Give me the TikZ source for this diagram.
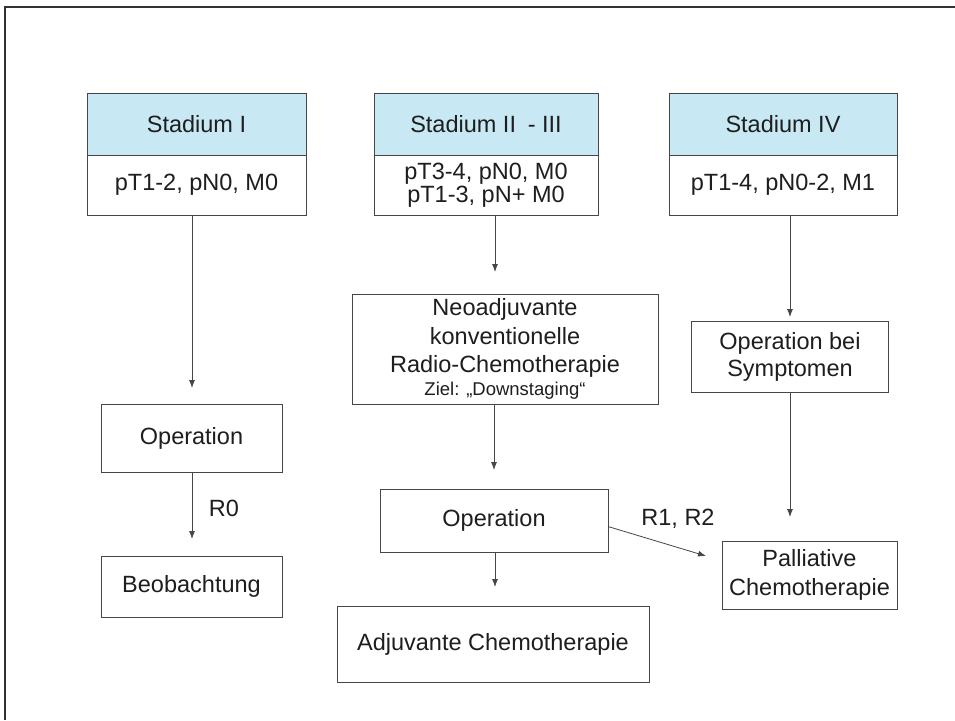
\documentclass[tikz,border=0pt]{standalone}
\usepackage{fontspec}
\setmainfont{Liberation Sans}
\usetikzlibrary{arrows.meta}
\definecolor{hdr}{RGB}{200,233,243}
\definecolor{ln}{RGB}{70,70,70}
\definecolor{tx}{RGB}{30,30,30}
\definecolor{frm}{RGB}{50,50,50}
\begin{document}
\begin{tikzpicture}[x=1pt,y=-1pt,
  box/.style={draw=ln, line width=0.9pt, inner sep=0pt, outer sep=0pt, align=center, text=tx,
    font=\fontsize{23.5}{25}\selectfont},
  hbox/.style={box, fill=hdr},
  arr/.style={draw=ln, line width=0.8pt, -{Latex[length=8pt,width=6pt]}},
  lbl/.style={text=tx, font=\fontsize{23.5}{25}\selectfont, inner sep=0pt}]
\useasboundingbox (0,0) rectangle (955,720);
\fill[white] (0,0) rectangle (955,720);
% frame
\coordinate (fA) at (5,720);
\coordinate (fB) at (5,7);
\coordinate (fC) at (955,7);
\draw[frm, line width=2pt] (fA) -- (fB) -- (fC);

% column I
\node[hbox, minimum width=219pt, minimum height=62pt] (s1h) at (196.5,124) {Stadium I};
\node[box, minimum width=219pt, minimum height=60pt] (s1b) at (196.5,185) {pT1-2, pN0, M0};
\node[box, minimum width=181pt, minimum height=68pt] (op1) at (191.5,438) {Operation};
\node[box, minimum width=181pt, minimum height=61pt] (beo) at (191.5,586.5) {Beobachtung};
\coordinate (t1) at (192,388);
\coordinate (t2) at (192,539);
\draw[arr] (s1b.south -| t1) -- (t1);
\draw[arr] (op1.south -| t2) -- (t2);
\node[lbl] (r0) at (224,508) {R0};

% column II-III
\node[hbox, minimum width=224pt, minimum height=62pt] (s2h) at (486,124) {Stadium II\enspace - III};
\node[box, minimum width=224pt, minimum height=60pt, font=\fontsize{23.5}{23}\selectfont] (s2b) at (486,185) {pT3-4, pN0, M0\\pT1-3, pN+ M0};
\node[box, minimum width=306pt, minimum height=110pt, font=\fontsize{23.5}{28.5}\selectfont] (neo) at (505,349)
  {Neoadjuvante\\konventionelle\\Radio-Chemotherapie\\[-6pt]{\fontsize{18.5}{20}\selectfont Ziel: „Downstaging“}};
\node[box, minimum width=228pt, minimum height=63pt] (op2) at (494,520.5) {Operation};
\node[box, minimum width=312pt, minimum height=76pt] (adj) at (493,644) {Adjuvante Chemotherapie};
\coordinate (t3) at (495,272);
\coordinate (t4) at (494,470);
\coordinate (t5) at (495,587);
\draw[arr] (s2b.south -| t3) -- (t3);
\draw[arr] (neo.south -| t4) -- (t4);
\draw[arr] (op2.south -| t5) -- (t5);

% column IV
\node[hbox, minimum width=228pt, minimum height=62pt] (s4h) at (783,124) {Stadium IV};
\node[box, minimum width=228pt, minimum height=60pt] (s4b) at (783,185) {pT1-4, pN0-2, M1};
\node[box, minimum width=197pt, minimum height=71pt, font=\fontsize{23.5}{27}\selectfont] (ops) at (790,356.5) {Operation bei\\Symptomen};
\node[box, minimum width=175pt, minimum height=68pt, font=\fontsize{23.5}{29}\selectfont] (pal) at (809.5,575) {Palliative\\Chemotherapie};
\coordinate (t6) at (790,317);
\coordinate (t7) at (790,517);
\coordinate (t8) at (706,556);
\draw[arr] (s4b.south -| t6) -- (t6);
\draw[arr] (ops.south -| t7) -- (t7);
\draw[arr] ([yshift=-6pt]op2.east) -- (t8);
\node[lbl] (r12) at (678,519) {R1, R2};
\end{tikzpicture}
\end{document}
